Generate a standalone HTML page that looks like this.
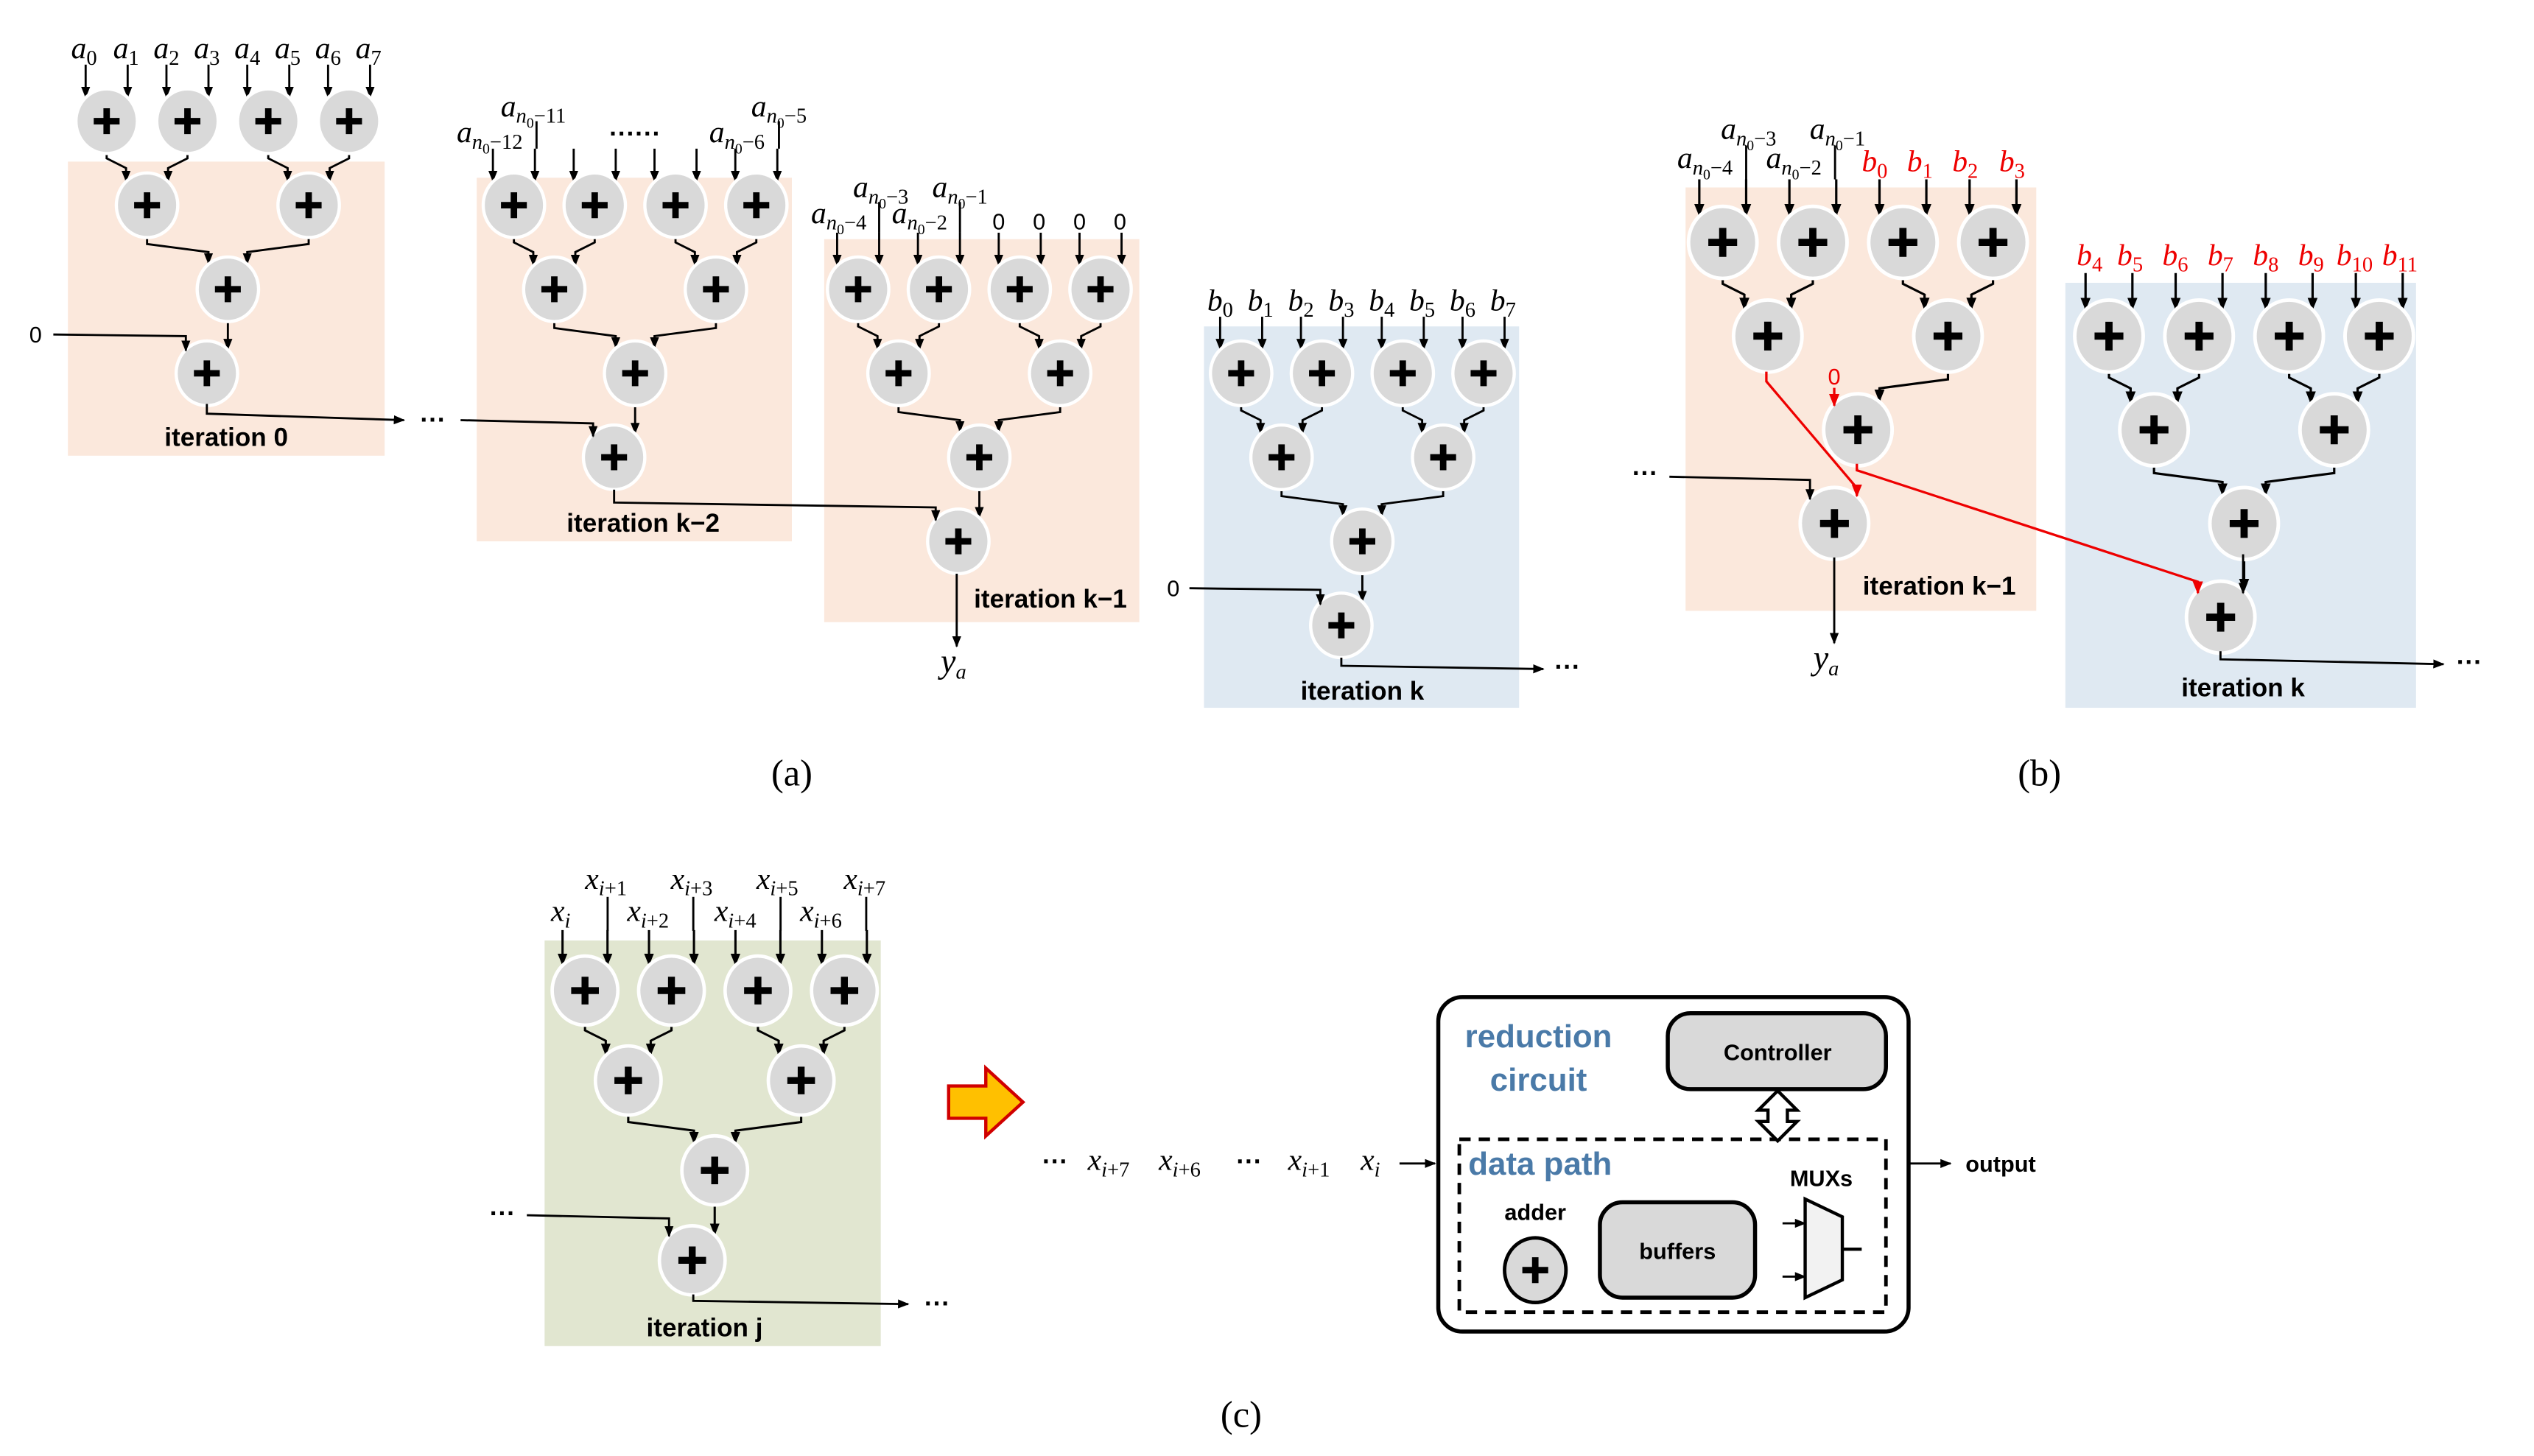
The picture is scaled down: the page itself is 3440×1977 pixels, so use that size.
<!DOCTYPE html>
<html><head><meta charset="utf-8"><style>
html,body{margin:0;padding:0;background:#fff;}
svg{display:block;}
.m{font-family:"Liberation Serif",serif;font-style:italic;font-size:19px;text-anchor:middle;}
.s{font-size:13px;font-style:normal;}
.si{font-size:13px;}
.ss{font-size:9px;font-style:normal;}
.n{font-style:normal;font-size:13px;}
.it{font-family:"Liberation Sans",sans-serif;font-weight:bold;font-size:16px;text-anchor:middle;}
.cap{font-family:"Liberation Serif",serif;font-size:23px;text-anchor:middle;}
.dots{font-family:"Liberation Sans",sans-serif;font-weight:bold;font-size:16px;text-anchor:middle;}
.ln{fill:none;stroke:#000;stroke-width:1.3;}
.rd{fill:none;stroke:#e00;stroke-width:1.5;}
.bl{font-family:"Liberation Sans",sans-serif;font-weight:bold;font-size:20px;fill:#4a7aa8;text-anchor:middle;}
.bk{font-family:"Liberation Sans",sans-serif;font-weight:bold;font-size:14px;text-anchor:middle;}
</style></head><body>
<svg width="3440" height="1977" viewBox="0 0 1568 901" preserveAspectRatio="none" xmlns="http://www.w3.org/2000/svg">
<defs>
<marker id="ah" viewBox="0 0 10 10" refX="9" refY="5" markerWidth="7" markerHeight="7" markerUnits="userSpaceOnUse" orient="auto"><path d="M0,1L10,5L0,9z" fill="#000"/></marker>
<marker id="ar" viewBox="0 0 10 10" refX="9" refY="5" markerWidth="8" markerHeight="8" markerUnits="userSpaceOnUse" orient="auto"><path d="M0,1L10,5L0,9z" fill="#e00"/></marker>
<g id="ad"><ellipse rx="19" ry="20" fill="#d9d9d9" stroke="#fff" stroke-width="2"/><path d="M-8,0H8M0,-8V8" stroke="#000" stroke-width="4"/></g>
<g id="ads">
<use href="#ad" x="0" y="0"/><use href="#ad" x="50" y="0"/><use href="#ad" x="100" y="0"/><use href="#ad" x="150" y="0"/>
<use href="#ad" x="25" y="52"/><use href="#ad" x="125" y="52"/><use href="#ad" x="75" y="104"/><use href="#ad" x="62" y="156"/>
</g>
<g id="in1" class="ln">
<path d="M-13,-35V-15" marker-end="url(#ah)"/><path d="M13,-35V-15" marker-end="url(#ah)"/>
<path d="M37,-35V-15" marker-end="url(#ah)"/><path d="M63,-35V-15" marker-end="url(#ah)"/>
<path d="M87,-35V-15" marker-end="url(#ah)"/><path d="M113,-35V-15" marker-end="url(#ah)"/>
<path d="M137,-35V-15" marker-end="url(#ah)"/><path d="M163,-35V-15" marker-end="url(#ah)"/>
</g>
<g id="l12" class="ln">
<path d="M0,19V23L12,29V37" marker-end="url(#ah)"/><path d="M50,19V23L38,29V37" marker-end="url(#ah)"/>
<path d="M100,19V23L112,29V37" marker-end="url(#ah)"/><path d="M150,19V23L138,29V37" marker-end="url(#ah)"/>
</g>
<path id="l23L" class="ln" d="M25,71V76L63,81V88" marker-end="url(#ah)"/>
<path id="l23R" class="ln" d="M125,71V76L87,81V88" marker-end="url(#ah)"/>
<path id="l34" class="ln" d="M75,123V141" marker-end="url(#ah)"/>
<g id="tree"><use href="#in1"/><use href="#l12"/><use href="#l23L"/><use href="#l23R"/><use href="#l34"/><use href="#ads"/></g>
</defs>

<rect x="42" y="100" width="196" height="182" fill="#fbe8dc"/>
<rect x="295" y="110" width="195" height="225" fill="#fbe8dc"/>
<rect x="510" y="148" width="195" height="237" fill="#fbe8dc"/>
<rect x="745" y="202" width="195" height="236" fill="#dfe9f2"/>
<rect x="1043" y="116" width="217" height="262" fill="#fbe8dc"/>
<rect x="1278" y="175" width="217" height="263" fill="#dfe9f2"/>
<rect x="337" y="582" width="208" height="251" fill="#e1e6d0"/>

<use href="#tree" transform="translate(66,75)"/>
<use href="#tree" transform="translate(318,127)"/>
<use href="#tree" transform="translate(531,179)"/>
<use href="#tree" transform="translate(768,231)"/>
<g transform="translate(1066,150) scale(1.115)"><use href="#in1"/><use href="#l12"/><use href="#l23R"/><use href="#ads"/></g>
<use href="#tree" transform="translate(1305,208) scale(1.115)"/>
<use href="#tree" transform="translate(362,613) scale(1.07)"/>

<g class="ln"><path d="M332,75V92"/><path d="M482,75V92"/><path d="M544,125V144"/><path d="M594,125V144"/>
<path d="M1080.5,90V111"/><path d="M1135.5,90V111"/>
<path d="M376,555V576"/><path d="M429,555V576"/><path d="M483,555V576"/><path d="M536,555V576"/></g>

<g class="ln">
<path d="M33,207L115,208V217" marker-end="url(#ah)"/>
<path d="M128,250V256L250,260" marker-end="url(#ah)"/>
<path d="M285,260L367,262V270" marker-end="url(#ah)"/>
<path d="M380,303V311L579,314V322" marker-end="url(#ah)"/>
<path d="M592,355V400" marker-end="url(#ah)"/>
<path d="M736,364L817,365V374" marker-end="url(#ah)"/>
<path d="M830,407V412L955,414" marker-end="url(#ah)"/>
<path d="M1033,295L1120,297V309" marker-end="url(#ah)"/>
<path d="M1135,345V398" marker-end="url(#ah)"/>
<path d="M1374,403V408L1512,411" marker-end="url(#ah)"/>
<path d="M1388,343V367" marker-end="url(#ah)"/>
<path d="M326,752L414,754V765" marker-end="url(#ah)"/>
<path d="M429,801V805L562,807" marker-end="url(#ah)"/>
</g>
<g class="rd">
<path d="M1135,240V251" marker-end="url(#ar)"/>
<path d="M1093,230V236L1149,302V307" marker-end="url(#ar)"/>
<path d="M1149,287V291L1360,360V367" marker-end="url(#ar)"/>
</g>
<text x="1135" y="238" font-family="Liberation Sans,sans-serif" font-size="14" fill="#e00" text-anchor="middle">0</text>

<g class="m">
<text x="52" y="36">a<tspan class="s" dy="4">0</tspan></text>
<text x="78" y="36">a<tspan class="s" dy="4">1</tspan></text>
<text x="103" y="36">a<tspan class="s" dy="4">2</tspan></text>
<text x="128" y="36">a<tspan class="s" dy="4">3</tspan></text>
<text x="153" y="36">a<tspan class="s" dy="4">4</tspan></text>
<text x="178" y="36">a<tspan class="s" dy="4">5</tspan></text>
<text x="203" y="36">a<tspan class="s" dy="4">6</tspan></text>
<text x="228" y="36">a<tspan class="s" dy="4">7</tspan></text>
<text x="330" y="72">a<tspan class="si" dy="4">n</tspan><tspan class="ss" dy="3">0</tspan><tspan class="n" dy="-3">−11</tspan></text>
<text x="303" y="88">a<tspan class="si" dy="4">n</tspan><tspan class="ss" dy="3">0</tspan><tspan class="n" dy="-3">−12</tspan></text>
<text x="456" y="88">a<tspan class="si" dy="4">n</tspan><tspan class="ss" dy="3">0</tspan><tspan class="n" dy="-3">−6</tspan></text>
<text x="482" y="72">a<tspan class="si" dy="4">n</tspan><tspan class="ss" dy="3">0</tspan><tspan class="n" dy="-3">−5</tspan></text>
<text x="545" y="122">a<tspan class="si" dy="4">n</tspan><tspan class="ss" dy="3">0</tspan><tspan class="n" dy="-3">−3</tspan></text>
<text x="594" y="122">a<tspan class="si" dy="4">n</tspan><tspan class="ss" dy="3">0</tspan><tspan class="n" dy="-3">−1</tspan></text>
<text x="519" y="138">a<tspan class="si" dy="4">n</tspan><tspan class="ss" dy="3">0</tspan><tspan class="n" dy="-3">−4</tspan></text>
<text x="569" y="138">a<tspan class="si" dy="4">n</tspan><tspan class="ss" dy="3">0</tspan><tspan class="n" dy="-3">−2</tspan></text>
<text x="755" y="192">b<tspan class="s" dy="4">0</tspan></text>
<text x="780" y="192">b<tspan class="s" dy="4">1</tspan></text>
<text x="805" y="192">b<tspan class="s" dy="4">2</tspan></text>
<text x="830" y="192">b<tspan class="s" dy="4">3</tspan></text>
<text x="855" y="192">b<tspan class="s" dy="4">4</tspan></text>
<text x="880" y="192">b<tspan class="s" dy="4">5</tspan></text>
<text x="905" y="192">b<tspan class="s" dy="4">6</tspan></text>
<text x="930" y="192">b<tspan class="s" dy="4">7</tspan></text>
<text x="590" y="416" font-size="21">y<tspan class="si" dy="4">a</tspan></text>
<text x="1130" y="414" font-size="21">y<tspan class="si" dy="4">a</tspan></text>
<text x="1082" y="86">a<tspan class="si" dy="4">n</tspan><tspan class="ss" dy="3">0</tspan><tspan class="n" dy="-3">−3</tspan></text>
<text x="1137" y="86">a<tspan class="si" dy="4">n</tspan><tspan class="ss" dy="3">0</tspan><tspan class="n" dy="-3">−1</tspan></text>
<text x="1055" y="104">a<tspan class="si" dy="4">n</tspan><tspan class="ss" dy="3">0</tspan><tspan class="n" dy="-3">−4</tspan></text>
<text x="1110" y="104">a<tspan class="si" dy="4">n</tspan><tspan class="ss" dy="3">0</tspan><tspan class="n" dy="-3">−2</tspan></text>
<g fill="#e00">
<text x="1160" y="106">b<tspan class="s" dy="4">0</tspan></text>
<text x="1188" y="106">b<tspan class="s" dy="4">1</tspan></text>
<text x="1216" y="106">b<tspan class="s" dy="4">2</tspan></text>
<text x="1245" y="106">b<tspan class="s" dy="4">3</tspan></text>
<text x="1293" y="164">b<tspan class="s" dy="4">4</tspan></text>
<text x="1318" y="164">b<tspan class="s" dy="4">5</tspan></text>
<text x="1346" y="164">b<tspan class="s" dy="4">6</tspan></text>
<text x="1374" y="164">b<tspan class="s" dy="4">7</tspan></text>
<text x="1402" y="164">b<tspan class="s" dy="4">8</tspan></text>
<text x="1430" y="164">b<tspan class="s" dy="4">9</tspan></text>
<text x="1457" y="164">b<tspan class="s" dy="4">10</tspan></text>
<text x="1485" y="164">b<tspan class="s" dy="4">11</tspan></text>
</g>
<text x="375" y="550">x<tspan class="si" dy="4">i</tspan><tspan class="s">+1</tspan></text>
<text x="428" y="550">x<tspan class="si" dy="4">i</tspan><tspan class="s">+3</tspan></text>
<text x="481" y="550">x<tspan class="si" dy="4">i</tspan><tspan class="s">+5</tspan></text>
<text x="535" y="550">x<tspan class="si" dy="4">i</tspan><tspan class="s">+7</tspan></text>
<text x="347" y="570">x<tspan class="si" dy="4">i</tspan></text>
<text x="401" y="570">x<tspan class="si" dy="4">i</tspan><tspan class="s">+2</tspan></text>
<text x="455" y="570">x<tspan class="si" dy="4">i</tspan><tspan class="s">+4</tspan></text>
<text x="508" y="570">x<tspan class="si" dy="4">i</tspan><tspan class="s">+6</tspan></text>
<text x="686" y="724">x<tspan class="si" dy="4">i</tspan><tspan class="s">+7</tspan></text>
<text x="730" y="724">x<tspan class="si" dy="4">i</tspan><tspan class="s">+6</tspan></text>
<text x="810" y="724">x<tspan class="si" dy="4">i</tspan><tspan class="s">+1</tspan></text>
<text x="848" y="724">x<tspan class="si" dy="4">i</tspan></text>
</g>
<g font-family="Liberation Sans,sans-serif" font-size="14" text-anchor="middle">
<text x="22" y="212">0</text><text x="726" y="369">0</text>
<text x="618" y="142">0</text><text x="643" y="142">0</text><text x="668" y="142">0</text><text x="693" y="142">0</text>
</g>
<g class="dots">
<text x="268" y="265">···</text><text x="393" y="88">······</text><text x="970" y="418">···</text>
<text x="1018" y="298">···</text><text x="1528" y="415">···</text>
<text x="311" y="756">···</text><text x="580" y="812">···</text>
<text x="653" y="724">···</text><text x="773" y="724">···</text>
</g>
<g class="it">
<text x="140" y="276">iteration 0</text>
<text x="398" y="329">iteration k−2</text>
<text x="650" y="376">iteration k−1</text>
<text x="843" y="433">iteration k</text>
<text x="1200" y="368">iteration k−1</text>
<text x="1388" y="431">iteration k</text>
<text x="436" y="827">iteration j</text>
</g>
<g class="cap"><text x="490" y="486">(a)</text><text x="1262" y="486">(b)</text><text x="768" y="883">(c)</text></g>

<polygon points="587,672 610,672 610,661 633,682 610,703 610,692 587,692" fill="#ffc000" stroke="#d00000" stroke-width="2"/>
<path class="ln" d="M866,720H888" marker-end="url(#ah)"/>

<rect x="890" y="617" width="291" height="207" rx="15" fill="#fff" stroke="#000" stroke-width="2.5"/>
<text class="bl" x="952" y="648">reduction</text>
<text class="bl" x="952" y="675">circuit</text>
<rect x="1032" y="627" width="135" height="47" rx="14" fill="#d9d9d9" stroke="#000" stroke-width="2.5"/>
<text class="bk" x="1100" y="656">Controller</text>
<rect x="903" y="705" width="264" height="107" fill="none" stroke="#000" stroke-width="2.2" stroke-dasharray="7,5"/>
<polygon points="1100,675 1112,687 1106,687 1106,694 1112,694 1100,706 1088,694 1094,694 1094,687 1088,687" fill="#fff" stroke="#000" stroke-width="2"/>
<text class="bl" x="953" y="727">data path</text>
<text class="bk" x="1127" y="734">MUXs</text>
<text class="bk" x="950" y="755">adder</text>
<ellipse cx="950" cy="786" rx="19" ry="20" fill="#d9d9d9" stroke="#000" stroke-width="2.2"/>
<path d="M942,786H958M950,778V794" stroke="#000" stroke-width="4"/>
<rect x="990" y="744" width="96" height="59" rx="14" fill="#d9d9d9" stroke="#000" stroke-width="2.5"/>
<text class="bk" x="1038" y="779">buffers</text>
<polygon points="1117,742 1140,753 1140,792 1117,803" fill="#f2f2f2" stroke="#000" stroke-width="2"/>
<path class="ln" d="M1103,757H1117" marker-end="url(#ah)" stroke-width="2"/>
<path class="ln" d="M1103,790H1117" marker-end="url(#ah)" stroke-width="2"/>
<path d="M1140,773H1152" stroke="#000" stroke-width="2"/>
<path class="ln" d="M1181,720H1207" marker-end="url(#ah)" stroke-width="2"/>
<text class="bk" x="1238" y="725">output</text>
</svg>
</body></html>
